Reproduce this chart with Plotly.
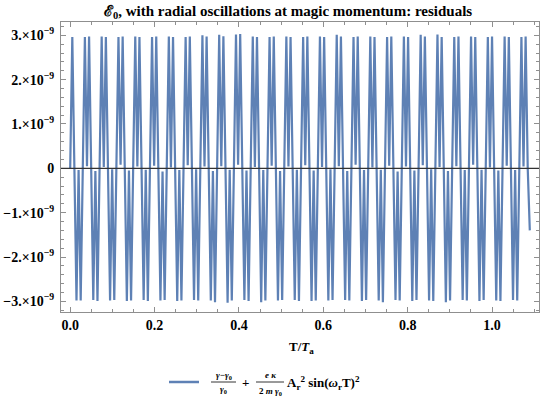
import plotly.graph_objects as go

# ---------------- data (residuals, units of 1e-9) ----------------
T_STEP = 0.004975  # sample spacing in T/Ta
resid_e9 = [
    0.00, 2.96, 0.00,
    -2.98, -0.04, -2.98, 0.00, 2.96, 0.05, 2.97, 0.00,
    -2.97, -0.06, -2.99, 0.00, 2.97, 0.03, 2.96, 0.00,
    -2.98, -0.02, -2.97, 0.00, 2.96, 0.08, 2.97, 0.00,
    -2.99, -0.05, -2.98, 0.00, 2.97, 0.04, 2.96, 0.00,
    -2.97, -0.03, -2.99, 0.00, 2.96, 0.06, 2.97, 0.00,
    -2.98, -0.07, -2.97, 0.00, 2.97, 0.02, 2.96, 0.00,
    -2.99, -0.04, -2.98, 0.00, 2.96, 0.07, 2.97, 0.00,
    -2.97, -0.02, -2.98, 0.00, 3.00, 0.04, 2.97, 0.00,
    -2.98, -0.06, -3.02, 0.00, 3.01, 0.05, 2.98, 0.00,
    -3.03, -0.03, -2.98, 0.00, 3.02, 0.08, 3.03, 0.00,
    -2.97, -0.05, -2.99, 0.00, 2.97, 0.03, 2.96, 0.00,
    -3.02, -0.04, -2.98, 0.00, 2.96, 0.06, 2.97, 0.00,
    -2.98, -0.06, -2.97, 0.00, 2.97, 0.04, 2.96, 0.00,
    -2.97, -0.03, -2.99, 0.00, 2.96, 0.07, 2.97, 0.00,
    -2.99, -0.05, -2.98, 0.00, 2.97, 0.03, 2.96, 0.00,
    -2.98, -0.02, -2.97, 0.00, 3.01, 0.05, 2.97, 0.00,
    -2.97, -0.06, -2.98, 0.00, 2.96, 0.08, 2.97, 0.00,
    -2.99, -0.04, -2.97, 0.00, 2.97, 0.02, 2.96, 0.00,
    -2.98, -0.03, -3.02, 0.00, 2.96, 0.06, 2.97, 0.00,
    -2.97, -0.07, -2.98, 0.00, 2.97, 0.04, 2.96, 0.00,
    -2.99, -0.05, -2.97, 0.00, 3.01, 0.07, 2.97, 0.00,
    -2.98, -0.02, -2.99, 0.00, 3.02, 0.03, 2.96, 0.00,
    -3.02, -0.06, -2.98, 0.00, 2.96, 0.05, 2.97, 0.00,
    -2.97, -0.04, -2.98, 0.00, 2.97, 0.08, 2.96, 0.00,
    -2.99, -0.03, -2.97, 0.00, 2.96, 0.02, 2.97, 0.00,
    -2.98, -0.05, -2.99, 0.00, 2.97, 0.06, 2.96, 0.00,
    -2.97, -0.04, -2.98, 0.00, 2.96, 0.04, 2.97, 0.00,
    -1.40,
]
T_over_Ta = [i * T_STEP for i in range(len(resid_e9))]
resid = [v * 1e-9 for v in resid_e9]

x_tickvals = [0.0, 0.2, 0.4, 0.6, 0.8, 1.0]
x_ticktext = ["0.0", "0.2", "0.4", "0.6", "0.8", "1.0"]
y_tickvals = [3e-9, 2e-9, 1e-9, 0, -1e-9, -2e-9, -3e-9]
y_ticktext = ["3.×10<sup>−9</sup>", "2.×10<sup>−9</sup>", "1.×10<sup>−9</sup>", "0",
              "−1.×10<sup>−9</sup>", "−2.×10<sup>−9</sup>", "−3.×10<sup>−9</sup>"]

TITLE = "ℰ<sub>0</sub>, with radial oscillations at magic momentum: residuals"
XLABEL = "T/<i>T</i><sub>a</sub>"

# ---------------- layout geometry ----------------
W, H = 542, 411
L, R, TOP, BOT = 61, 539, 22, 312
BLUE = "#5E81B5"
FRAME = "#8f8f8f"
FONT = "Liberation Serif"


def px(x):
    return (x - L) / (R - L)


def py(y):
    return (BOT - y) / (BOT - TOP)


fig = go.Figure()
fig.add_trace(go.Scatter(x=T_over_Ta, y=resid, mode="lines",
                         line=dict(color=BLUE, width=2.2), showlegend=False,
                         hoverinfo="skip"))

axis_common = dict(showline=True, mirror="ticks", linecolor=FRAME, linewidth=1,
                   ticks="inside", ticklen=5, tickcolor=FRAME, showgrid=False,
                   zeroline=False, tickfont=dict(family=FONT, size=14, color="black"))

fig.update_layout(
    width=W, height=H,
    margin=dict(l=L, r=W - R, t=TOP, b=H - BOT),
    plot_bgcolor="white", paper_bgcolor="white",
    xaxis=dict(range=[-0.0218, 1.1113], tickvals=x_tickvals,
               ticktext=["<b>%s</b>" % t for t in x_ticktext],
               minor=dict(ticks="inside", ticklen=3, tickcolor=FRAME, dtick=0.05, tick0=0),
               **axis_common),
    yaxis=dict(range=[-3.24e-9, 3.30e-9], tickvals=y_tickvals,
               ticktext=["<b>%s</b>" % t for t in y_ticktext],
               ticklabelstandoff=3,
               minor=dict(ticks="inside", ticklen=3, tickcolor=FRAME, dtick=0.2e-9, tick0=0),
               **axis_common),
)

shapes = [
    dict(type="line", xref="paper", yref="y", x0=0, x1=1, y0=0, y1=0,
         line=dict(color="#333333", width=1.2), layer="above"),
    # legend line sample
    dict(type="line", xref="paper", yref="paper", x0=px(169), x1=px(199),
         y0=py(382), y1=py(382), line=dict(color=BLUE, width=2.5)),
    # fraction bars
    dict(type="line", xref="paper", yref="paper", x0=px(211), x1=px(236),
         y0=py(382), y1=py(382), line=dict(color="black", width=0.8)),
    dict(type="line", xref="paper", yref="paper", x0=px(256), x1=px(284),
         y0=py(382), y1=py(382), line=dict(color="black", width=0.8)),
]
fig.update_layout(shapes=shapes)


def ann(text, x, y, size, xanchor="center"):
    return dict(text=text, xref="paper", yref="paper", x=px(x), y=py(y),
                xanchor=xanchor, yanchor="middle", showarrow=False,
                font=dict(family=FONT, size=size, color="black"))


annotations = [
    dict(text="<b>%s</b>" % TITLE, xref="paper", yref="paper", x=px(288), y=py(12),
         xanchor="center", yanchor="middle", showarrow=False,
         font=dict(family=FONT, size=15, color="black")),
    ann("<b>%s</b>" % XLABEL, 301, 347, 13),
    ann("<b><i>γ</i>−<i>γ</i><sub>0</sub></b>", 223.5, 375, 9),
    ann("<b><i>γ</i><sub>0</sub></b>", 223.5, 390, 9),
    ann("<b>+</b>", 245, 382, 13),
    ann("<b><i>e κ</i></b>", 270, 375, 9),
    ann("<b>2 <i>m γ</i><sub>0</sub></b>", 270, 391, 9),
    ann("<b>A<sub>r</sub><sup>2</sup> sin(<i>ω</i><sub>r</sub>T)<sup>2</sup></b>", 285, 383, 13, "left"),
]
fig.update_layout(annotations=annotations)

fig.write_html("out.html")
